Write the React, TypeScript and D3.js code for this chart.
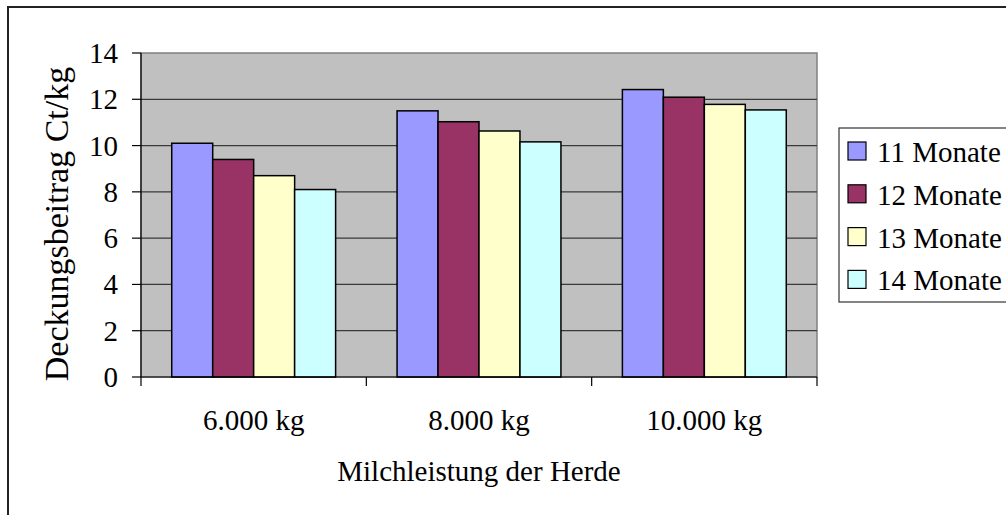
import React from "react";
import * as d3 from "d3";

const categories = ["6.000 kg", "8.000 kg", "10.000 kg"];
const seriesNames = ["11 Monate", "12 Monate", "13 Monate", "14 Monate"];
const seriesColors = ["#9999FF", "#993366", "#FFFFCC", "#CCFFFF"];
const values11 = [10.1, 11.5, 12.42];
const values12 = [9.4, 11.03, 12.09];
const values13 = [8.7, 10.63, 11.78];
const values14 = [8.1, 10.16, 11.54];
const seriesValues = [values11, values12, values13, values14];
const yTicks = [0, 2, 4, 6, 8, 10, 12, 14];

const W = 1006;
const H = 515;
const plot = { left: 141, top: 53, right: 817, bottom: 377 };
const FONT = '"Liberation Serif", "Times New Roman", Times, serif';
const FS = 29;
const txt: React.CSSProperties = { fontFamily: FONT };

export default function App() {
  const x = d3
    .scaleBand<string>()
    .domain(categories)
    .range([plot.left, plot.right])
    .paddingInner(0)
    .paddingOuter(0);
  const y = d3.scaleLinear().domain([0, 14]).range([plot.bottom, plot.top]);
  const bw = x.bandwidth();
  const barW = bw / 5.5;
  const gap = (bw - barW * 4) / 2;

  return (
    <svg
      width={W}
      height={H}
      style={{ position: "absolute", left: 0, top: 0, background: "#fff", fontFamily: FONT }}
    >
      <rect x={8} y={7} width={1010} height={520} fill="#fff" stroke="#222" strokeWidth={2} />
      <rect
        x={plot.left}
        y={plot.top}
        width={plot.right - plot.left}
        height={plot.bottom - plot.top}
        fill="#C0C0C0"
        stroke="#808080"
        strokeWidth={1.5}
      />
      {yTicks.slice(1, -1).map((t) => (
        <line
          key={"g" + t}
          x1={plot.left}
          x2={plot.right}
          y1={y(t)}
          y2={y(t)}
          stroke="#3a3a3a"
          strokeWidth={1.2}
        />
      ))}
      {seriesValues.map((vals, si) =>
        vals.map((v, ci) => (
          <rect
            key={si + "-" + ci}
            x={(x(categories[ci]) as number) + gap + si * barW}
            y={y(v)}
            width={barW}
            height={y(0) - y(v)}
            fill={seriesColors[si]}
            stroke="#000"
            strokeWidth={1.5}
          />
        ))
      )}
      <line x1={plot.left} x2={plot.left} y1={plot.top} y2={plot.bottom} stroke="#000" strokeWidth={1.2} />
      <line x1={plot.left} x2={plot.right} y1={plot.bottom} y2={plot.bottom} stroke="#000" strokeWidth={1.2} />
      {yTicks.map((t) => (
        <g key={"t" + t}>
          <line x1={plot.left - 9} x2={plot.left} y1={y(t)} y2={y(t)} stroke="#000" strokeWidth={1.2} />
          <text x={118} y={y(t) + 10} textAnchor="end" fontSize={FS} fill="#000" style={txt}>
            {t}
          </text>
        </g>
      ))}
      {categories.map((c, i) => (
        <line
          key={"xt" + i}
          x1={x(c) as number}
          x2={x(c) as number}
          y1={plot.bottom}
          y2={plot.bottom + 9}
          stroke="#000"
          strokeWidth={1.2}
        />
      ))}
      <line x1={plot.right} x2={plot.right} y1={plot.bottom} y2={plot.bottom + 9} stroke="#000" strokeWidth={1.2} />
      {categories.map((c) => (
        <text
          key={"xl" + c}
          x={(x(c) as number) + bw / 2}
          y={430}
          textAnchor="middle"
          fontSize={FS}
          fill="#000"
          style={txt}
        >
          {c}
        </text>
      ))}
      <text x={(plot.left + plot.right) / 2} y={481} textAnchor="middle" fontSize={FS} fill="#000" style={txt}>
        Milchleistung der Herde
      </text>
      <text
        transform={`translate(68, ${(68 + 380) / 2}) rotate(-90)`}
        textAnchor="middle"
        fontSize={34}
        fill="#000"
        style={txt}
      >
        Deckungsbeitrag Ct/kg
      </text>
      <rect x={839} y={128} width={200} height={174} fill="#fff" stroke="#333" strokeWidth={1.2} />
      {seriesNames.map((n, i) => (
        <g key={"lg" + n}>
          <rect
            x={848}
            y={142 + i * 42.8}
            width={18}
            height={18}
            fill={seriesColors[i]}
            stroke="#000"
            strokeWidth={1.2}
          />
          <text x={877} y={162 + i * 42.8} fontSize={FS} fill="#000" style={txt}>
            {n}
          </text>
        </g>
      ))}
    </svg>
  );
}
